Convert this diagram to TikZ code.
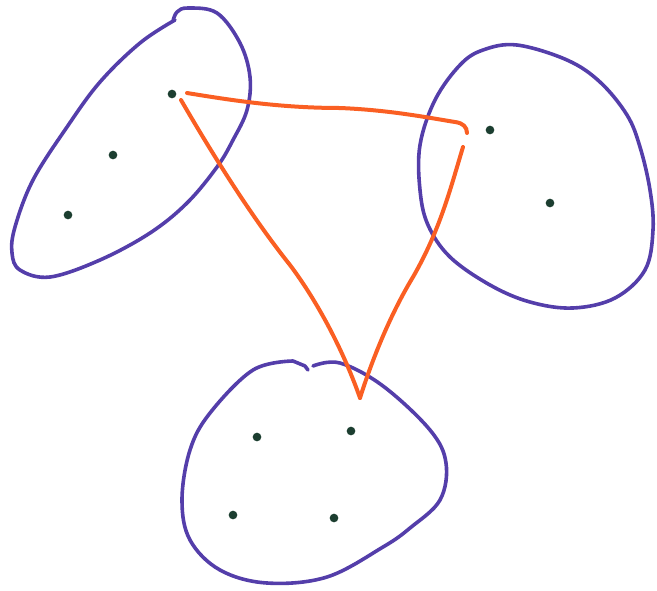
\documentclass[tikz,border=0pt]{standalone}
\definecolor{penblue}{RGB}{84,62,170}
\definecolor{penorange}{RGB}{250,95,35}
\definecolor{pengreen}{RGB}{28,62,48}
\tikzset{every picture/.style={line width=0.75pt}}
\tikzset{
  blob/.style={color=penblue, line width=2.7, line join=round, line cap=round},
  link/.style={color=penorange, line width=3, line join=round, line cap=round},
  dot/.style={circle, fill=pengreen, inner sep=0pt, minimum size=6.5pt}
}

\begin{document}
\begin{tikzpicture}[x=0.75pt,y=0.75pt,yscale=-1,xscale=1]
\useasboundingbox (0,0) rectangle (657,590);

%Curve Lines: left blob
\draw [blob] plot [smooth, tension=0.6] coordinates {(173,21) (177,12) (188,8) (217,13) (240,43) (250,77) (247,110) (233,140) (217,167) (187,203) (150,233) (100,260) (50,277) (20,270) (12,253) (15,227) (33,180) (67,127) (100,82) (140,43) (175,20)};
%Curve Lines: right blob
\draw [blob] plot [smooth cycle, tension=0.6] coordinates {(517,45) (567,60) (600,82) (627,115) (640,147) (650,190) (653,230) (645,270) (615,298) (573,308) (530,302) (490,285) (450,257) (428,225) (420,190) (420,145) (435,100) (460,65) (483,50)};
%Curve Lines: bottom blob
\draw [blob] plot [smooth, tension=0.6] coordinates {(313,366) (340,363) (383,386) (430,430) (446,463) (440,500) (410,528) (383,547) (327,577) (267,583) (220,570) (190,540) (182,500) (190,450) (210,413) (253,370) (293,361)} -- (305,366) -- (308,370);

%Dots
\node [dot] (l1) at (172,94) {};
\node [dot] (l2) at (113,155) {};
\node [dot] (l3) at (68,215) {};
\node [dot] (r1) at (490,130) {};
\node [dot] (r2) at (550,203) {};
\node [dot] (b1) at (257,437) {};
\node [dot] (b2) at (351,431) {};
\node [dot] (b3) at (233,515) {};
\node [dot] (b4) at (334,518) {};

%Line ends
\coordinate (topL) at (187,93);
\coordinate (topR) at (467,133);
\coordinate (diagL) at (181,100);
\coordinate (diagR) at (463,147);
\coordinate (tip) at (360,398);

%Curve Lines: orange links
\draw [link] (topL) .. controls (230,100) and (280,108) .. (340,108) .. controls (390,110) and (430,118) .. (455,122) .. controls (463,123) and (467,127) .. (topR) ;
\draw [link] (diagL) .. controls (210,150) and (250,215) .. (290,265) .. controls (320,305) and (345,355) .. (tip) ;
\draw [link] (diagR) .. controls (450,190) and (440,230) .. (413,277) .. controls (390,315) and (372,360) .. (tip) ;

\end{tikzpicture}
\end{document}
